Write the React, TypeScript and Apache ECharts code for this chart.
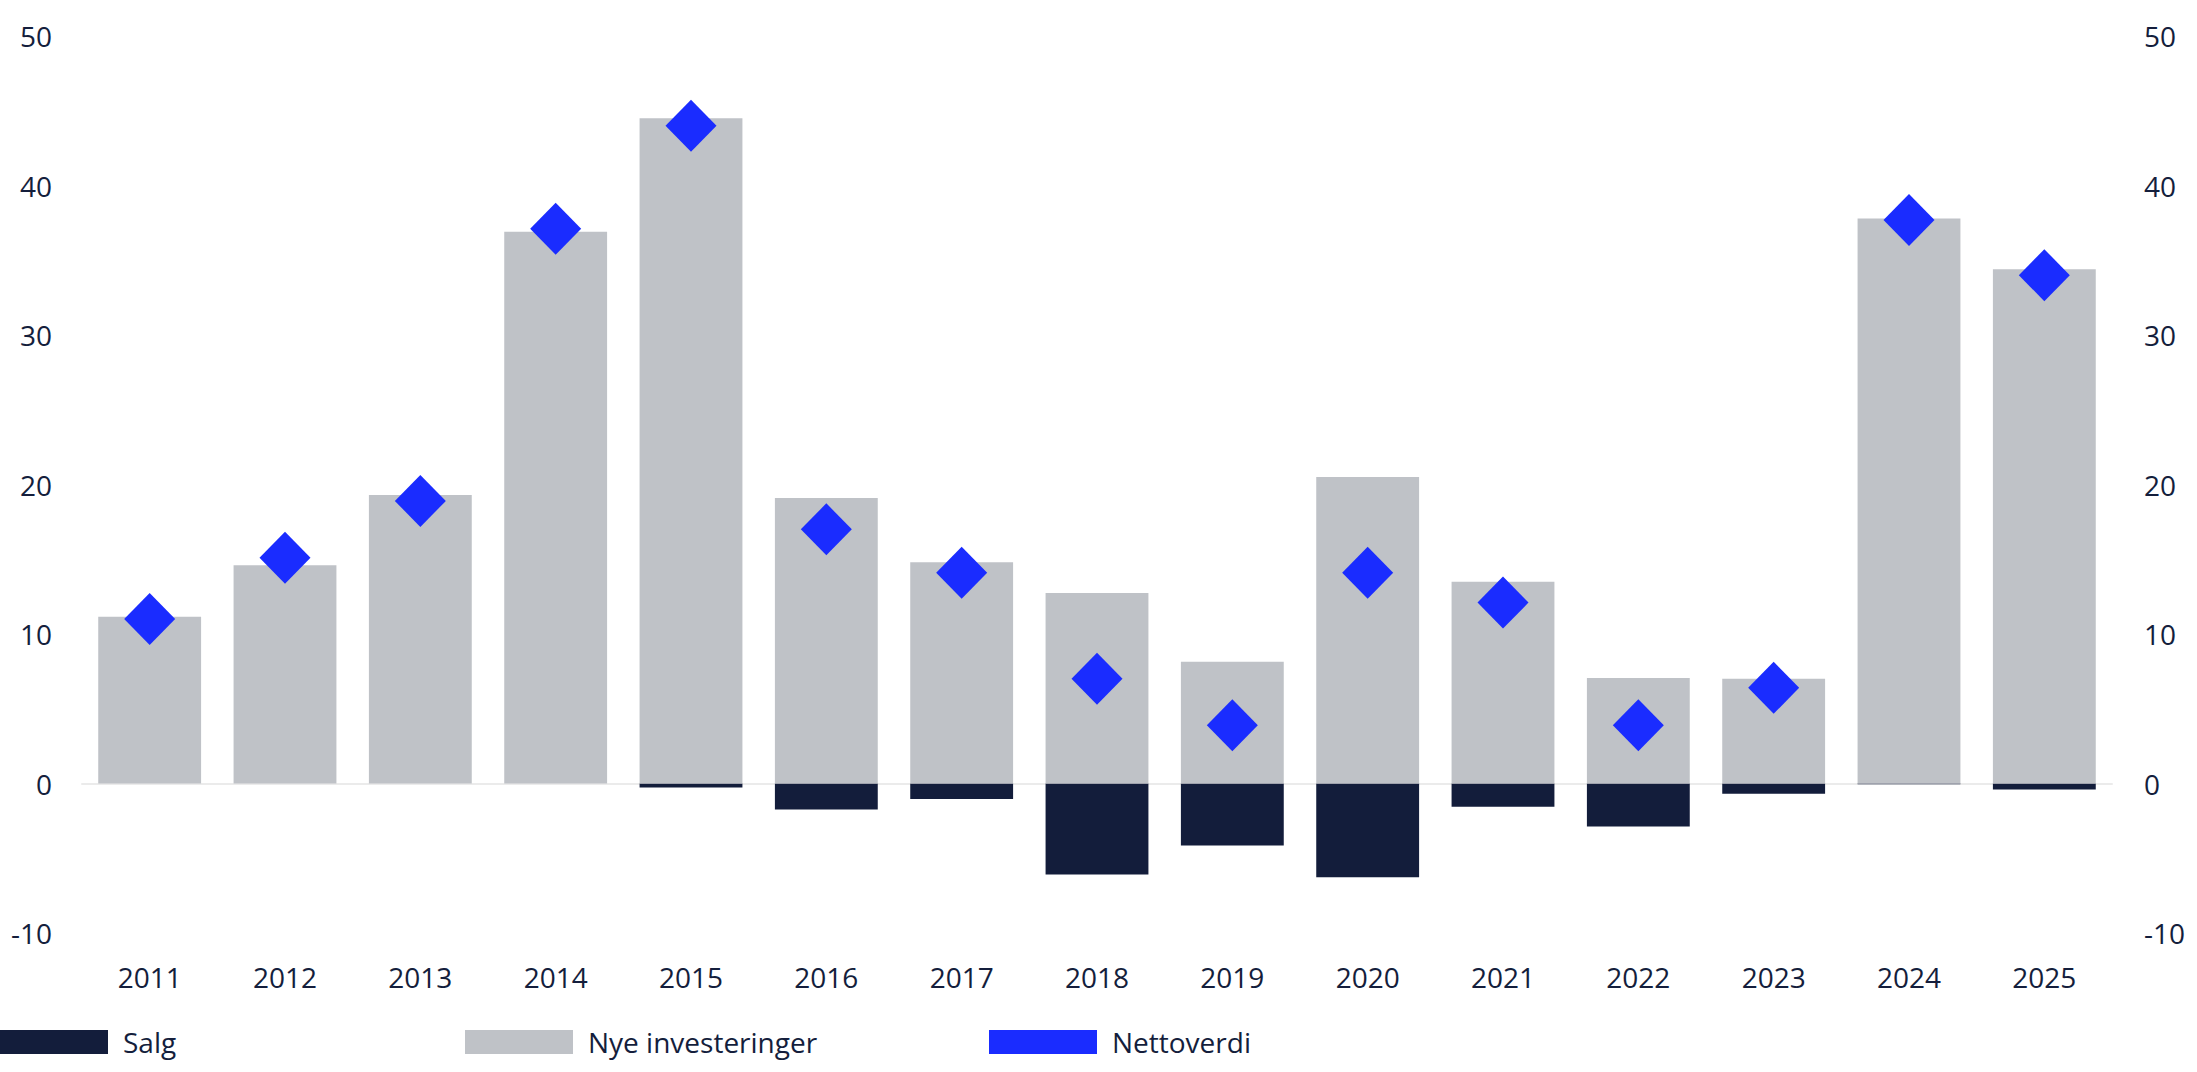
import React, { useEffect, useRef } from "react";
import * as echarts from "echarts";

const years = ["2011","2012","2013","2014","2015","2016","2017","2018","2019","2020","2021","2022","2023","2024","2025"];
const salg = [0, 0, 0, 0, -0.27, -1.74, -1.03, -6.09, -4.15, -6.27, -1.56, -2.88, -0.69, -0.05, -0.4];
const nyeInvesteringer = [11.15, 14.6, 19.3, 36.9, 44.5, 19.1, 14.8, 12.75, 8.15, 20.5, 13.5, 7.05, 7.0, 37.8, 34.4];
const nettoverdi = [11.0, 15.1, 18.9, 37.1, 44.0, 17.0, 14.1, 7.0, 3.9, 14.1, 12.1, 3.9, 6.4, 37.7, 34.0];
const yTicks = { min: -10, max: 50, interval: 10 };

const TEXT = "#141e3c";
const FONT = "'Open Sans', 'Noto Sans', sans-serif";

export default function App() {
  const ref = useRef<HTMLDivElement>(null);
  useEffect(() => {
    document.body.style.margin = "0";
    const chart = echarts.init(ref.current!, null, { renderer: "svg" });
    const axisLabel = { color: TEXT, fontSize: 28, fontFamily: FONT };
    const legendBase = {
      top: 1028,
      padding: 0,
      itemWidth: 108,
      itemHeight: 24,
      icon: "rect",
      textStyle: { color: TEXT, fontSize: 28, fontFamily: FONT, padding: [0, 0, 0, 10] },
      selectedMode: false,
    };
    chart.setOption({
      animation: false,
      backgroundColor: "#ffffff",
      grid: { left: 82, right: 85, top: 36, bottom: 139, containLabel: false },
      legend: [
        { ...legendBase, left: 0, data: ["Salg"] },
        { ...legendBase, left: 465, data: ["Nye investeringer"] },
        { ...legendBase, left: 989, data: ["Nettoverdi"] },
      ],
      xAxis: {
        type: "category",
        data: years,
        axisLine: { onZero: true, lineStyle: { color: "#ebebeb", width: 2 } },
        axisTick: { show: false },
        axisLabel: { ...axisLabel, margin: 30 },
      },
      yAxis: [
        {
          type: "value",
          ...yTicks,
          splitLine: { show: false },
          axisLine: { show: false },
          axisTick: { show: false },
          axisLabel: { ...axisLabel, margin: 30 },
        },
        {
          type: "value",
          position: "right",
          ...yTicks,
          splitLine: { show: false },
          axisLine: { show: false },
          axisTick: { show: false },
          axisLabel: { ...axisLabel, margin: 32 },
        },
      ],
      series: [
        {
          name: "Salg",
          type: "bar",
          stack: "total",
          data: salg,
          barWidth: "76%",
          itemStyle: { color: "#131d3b" },
        },
        {
          name: "Nye investeringer",
          type: "bar",
          stack: "total",
          data: nyeInvesteringer,
          barWidth: "76%",
          itemStyle: { color: "#bfc2c7" },
        },
        {
          name: "Nettoverdi",
          type: "scatter",
          data: nettoverdi,
          symbol: "diamond",
          symbolSize: [51, 52],
          itemStyle: { color: "#1a2cff", opacity: 1 },
          z: 5,
        },
      ],
    });
    return () => chart.dispose();
  }, []);
  return <div ref={ref} style={{ width: 2197, height: 1072 }} />;
}
